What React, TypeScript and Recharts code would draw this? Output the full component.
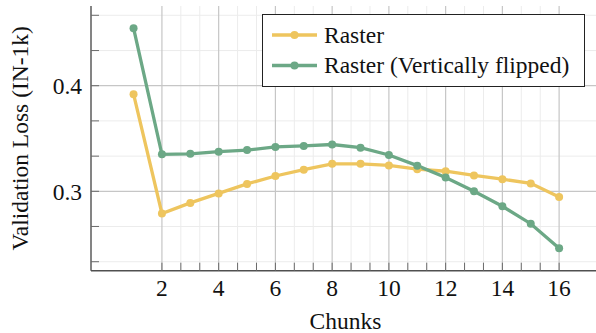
import { LineChart, Line, XAxis, YAxis, ReferenceLine, Legend, Label } from "recharts"

const chunks = [1, 2, 3, 4, 5, 6, 7, 8, 9, 10, 11, 12, 13, 14, 15, 16]
const raster = [0.392, 0.279, 0.289, 0.298, 0.307, 0.3145, 0.3205, 0.326, 0.326, 0.3245, 0.321, 0.319, 0.315, 0.3115, 0.3075, 0.2945]
const flipped = [0.4545, 0.335, 0.3355, 0.3375, 0.339, 0.342, 0.343, 0.3443, 0.3413, 0.3344, 0.3243, 0.313, 0.3, 0.2858, 0.2693, 0.246]

const xMajorTicks = [2, 4, 6, 8, 10, 12, 14, 16]
const xMinorTicks = xMajorTicks.slice(0, -1).flatMap((t) => [t + 2 / 3, t + 4 / 3])
const yMajorTicks = [0.3, 0.4]
const yMinorTicks = [0.2333, 0.2667, 0.3333, 0.3667, 0.4333, 0.4667]

const seriesNames = ["Raster", "Raster (Vertically flipped)"]
const colors = ["#EEC55E", "#6CA886"]

const data = chunks.map((c, i) => ({ chunk: c, raster: raster[i], flipped: flipped[i] }))

const FONT = "Liberation Serif, Times New Roman, serif"
const FS = 23.5

const XTick = (props: any) => {
  const { x, y, payload } = props
  const major = xMajorTicks.includes(payload.value)
  return (
    <g>
      <line x1={x} x2={x} y1={y} y2={y - 8} stroke="#6a6a6a" strokeWidth={1} />
      {major && (
        <text x={x} y={y + 25.5} textAnchor="middle" fontFamily={FONT} fontSize={FS} fill="#111">
          {payload.value}
        </text>
      )}
    </g>
  )
}

const YTick = (props: any) => {
  const { x, y, payload } = props
  const major = yMajorTicks.some((t) => Math.abs(t - payload.value) < 1e-6)
  return (
    <g>
      <line x1={x} x2={x + 8} y1={y} y2={y} stroke="#6a6a6a" strokeWidth={1} />
      {major && (
        <text x={x - 9} y={y + 8.3} textAnchor="end" fontFamily={FONT} fontSize={FS} fill="#111">
          {payload.value.toFixed(1)}
        </text>
      )}
    </g>
  )
}

const LegendBox = () => (
  <svg width={323} height={73} style={{ display: "block" }}>
    <rect x={0.5} y={0.5} width={322} height={72} fill="#fff" stroke="#222" strokeWidth={1} />
    {seriesNames.map((name, i) => {
      const cy = i === 0 ? 21 : 51.5
      return (
        <g key={name}>
          <line x1={10} x2={55} y1={cy} y2={cy} stroke={colors[i]} strokeWidth={3.3} />
          <circle cx={32.5} cy={cy} r={4} fill={colors[i]} />
          <text x={62} y={cy + 7.5} fontFamily={FONT} fontSize={FS} fill="#111">
            {name}
          </text>
        </g>
      )
    })}
  </svg>
)

export default function App() {
  return (
    <div style={{ position: "absolute", left: 0, top: 0, width: 596, height: 333, background: "#fff" }}>
      <LineChart width={596} height={333} data={data} margin={{ top: 6, right: 0, bottom: 0, left: 0 }}>
        {xMinorTicks.map((v) => (
          <ReferenceLine key={"xm" + v} x={v} stroke="#ececec" strokeWidth={1} />
        ))}
        {yMinorTicks.map((v) => (
          <ReferenceLine key={"ym" + v} y={v} stroke="#ececec" strokeWidth={1} />
        ))}
        {xMajorTicks.map((v) => (
          <ReferenceLine key={"xM" + v} x={v} stroke="#c6c6c6" strokeWidth={1.2} />
        ))}
        {yMajorTicks.map((v) => (
          <ReferenceLine key={"yM" + v} y={v} stroke="#c6c6c6" strokeWidth={1.2} />
        ))}
        <XAxis
          dataKey="chunk"
          type="number"
          domain={[-0.5, 17.3]}
          ticks={[...xMajorTicks, ...xMinorTicks]}
          interval={0}
          tick={<XTick />}
          tickLine={false}
          tickSize={0}
          tickMargin={0}
          height={62.3}
          axisLine={{ stroke: "#505050", strokeWidth: 1.4 }}
          allowDataOverflow
        >
          <Label
            content={({ viewBox }: any) => (
              <text
                x={viewBox.x + viewBox.width / 2 + 2}
                y={viewBox.y + 57.8}
                textAnchor="middle"
                fontFamily={FONT}
                fontSize={FS}
                fill="#111"
              >
                Chunks
              </text>
            )}
          />
        </XAxis>
        <YAxis
          type="number"
          domain={[0.2248, 0.4755]}
          ticks={[...yMajorTicks, ...yMinorTicks]}
          interval={0}
          tick={<YTick />}
          tickLine={false}
          tickSize={0}
          tickMargin={0}
          width={91}
          axisLine={{ stroke: "#505050", strokeWidth: 1.4 }}
          allowDataOverflow
        >
          <Label
            content={({ viewBox }: any) => {
              const cy = viewBox.y + viewBox.height / 2
              return (
                <text
                  x={28.5}
                  y={cy}
                  transform={`rotate(-90, 28.5, ${cy})`}
                  textAnchor="middle"
                  fontFamily={FONT}
                  fontSize={FS}
                  fill="#111"
                >
                  Validation Loss (IN-1k)
                </text>
              )
            }}
          />
        </YAxis>
        <Legend
          layout="horizontal"
          verticalAlign="middle"
          content={<LegendBox />}
          wrapperStyle={{ position: "absolute", top: 14, left: 262, width: 323, height: 73 }}
        />
        <Line
          type="linear"
          dataKey="raster"
          name={seriesNames[0]}
          stroke={colors[0]}
          strokeWidth={3.3}
          dot={{ r: 4, fill: colors[0], stroke: colors[0], strokeWidth: 0 }}
          activeDot={false}
          isAnimationActive={false}
        />
        <Line
          type="linear"
          dataKey="flipped"
          name={seriesNames[1]}
          stroke={colors[1]}
          strokeWidth={3.3}
          dot={{ r: 4, fill: colors[1], stroke: colors[1], strokeWidth: 0 }}
          activeDot={false}
          isAnimationActive={false}
        />
      </LineChart>
    </div>
  )
}
